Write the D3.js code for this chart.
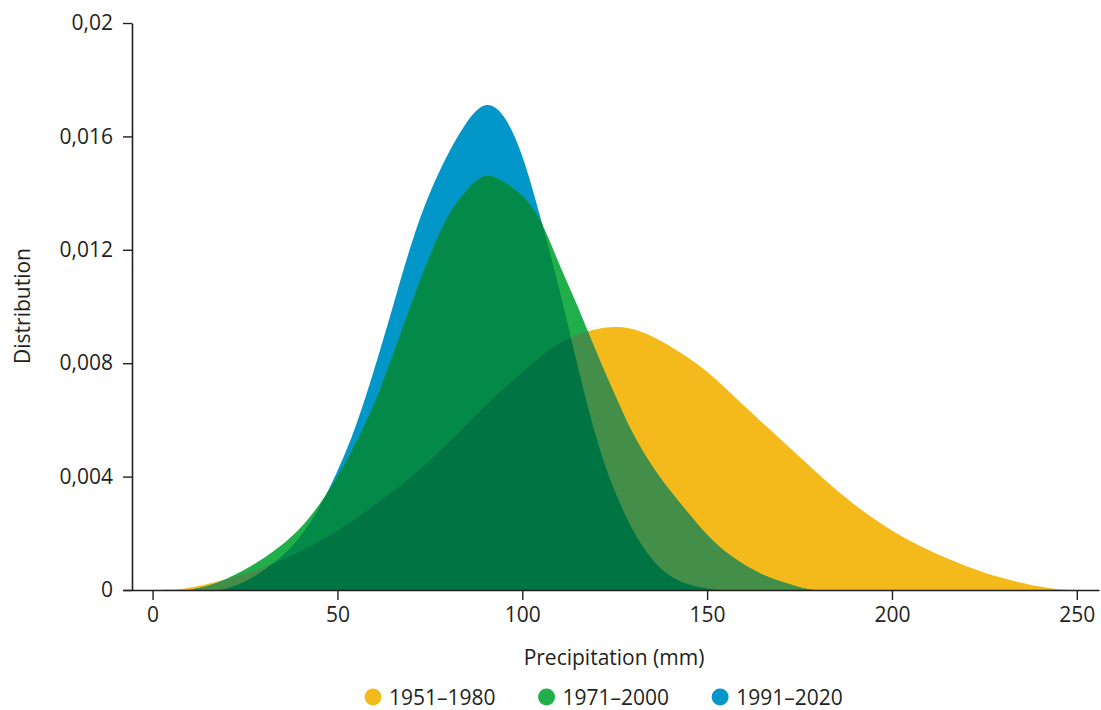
<!DOCTYPE html>
<html>
<head>
<meta charset="utf-8">
<script src="https://cdn.jsdelivr.net/npm/d3@7"></script>
<style>
  body { margin: 0; background: #fff; }
  text { font-family: "Open Sans", Lato, sans-serif; fill: #231f20; }
</style>
</head>
<body>
<div id="chart"></div>
<script>
// precipitation (mm) sample points and densities
var yellowX = [0, 5, 10, 20, 30, 40, 50, 60, 70, 80, 90, 100, 110, 120, 130, 140, 150, 160, 170, 180, 190, 200, 210, 220, 230, 240, 245, 250];
var yellowY = [0, 0.00002, 0.00008, 0.00038, 0.0008, 0.00138, 0.0021, 0.003, 0.004, 0.0052, 0.0065, 0.0077, 0.0087, 0.0092, 0.0092, 0.0086, 0.0077, 0.0065, 0.0053, 0.0041, 0.003, 0.0021, 0.0014, 0.00085, 0.00042, 0.00012, 0.00003, 0];

var greenX = [10, 15, 20, 25, 30, 35, 40, 45, 50, 55, 60, 65, 70, 75, 80, 85, 90, 95, 100, 105, 110, 115, 120, 125, 130, 135, 140, 145, 150, 155, 160, 165, 170, 175, 179];
var greenY = [0, 0.00015, 0.0004, 0.00072, 0.00112, 0.0016, 0.0022, 0.003, 0.004, 0.0052, 0.0066, 0.0083, 0.0101, 0.0118, 0.0132, 0.0141, 0.0146, 0.0144, 0.0139, 0.013, 0.0115, 0.01, 0.0084, 0.0069, 0.0055, 0.0044, 0.0035, 0.0027, 0.00195, 0.00135, 0.0009, 0.00055, 0.0003, 0.0001, 0];

var blueX = [18, 20, 25, 30, 35, 40, 45, 50, 55, 60, 65, 70, 75, 80, 85, 90, 95, 100, 105, 110, 115, 120, 125, 130, 135, 140, 145, 150, 153];
var blueY = [0, 0.00005, 0.0003, 0.0007, 0.0012, 0.0019, 0.0029, 0.0042, 0.0058, 0.0078, 0.01, 0.0122, 0.014, 0.0154, 0.0165, 0.0171, 0.0167, 0.0153, 0.0131, 0.0106, 0.0079, 0.0054, 0.0035, 0.0021, 0.0011, 0.0005, 0.0002, 0.00005, 0];

var series = ["1951–1980", "1971–2000", "1991–2020"];
var colors = ["#f4ba1c", "#20af4a", "#0396c8"];

var xTicks = [0, 50, 100, 150, 200, 250];
var yTicks = [0, 0.004, 0.008, 0.012, 0.016, 0.02];
var yTickLabels = ["0", "0,004", "0,008", "0,012", "0,016", "0,02"];

var W = 1101, H = 710;

var svg = d3.select("#chart")
  .append("svg")
    .attr("width", W)
    .attr("height", H);

var x = d3.scaleLinear().domain([-8, 256]).range([123, 1099]);
var y = d3.scaleLinear().domain([0, 0.02]).range([590, 23]);

function pts(xs, ys) { return xs.map((d, i) => [d, ys[i]]); }

var area = d3.area()
  .x(d => x(d[0]))
  .y0(y(0))
  .y1(d => y(d[1]))
  .curve(d3.curveNatural);

var yellow = pts(yellowX, yellowY),
    green = pts(greenX, greenY),
    blue = pts(blueX, blueY);

// keep any tiny spline dip under the baseline hidden
var defs = svg.append("defs");
defs.append("clipPath").attr("id", "clipPlot")
  .append("rect").attr("x", 123).attr("y", 0).attr("width", 980).attr("height", y(0));
defs.append("clipPath").attr("id", "clipYellow")
  .append("path").attr("d", area(yellow));
defs.append("clipPath").attr("id", "clipBlue")
  .append("path").attr("d", area(blue));

var plot = svg.append("g").attr("clip-path", "url(#clipPlot)");

// plain layers
plot.append("path").attr("d", area(yellow)).attr("fill", colors[0]);
plot.append("path").attr("d", area(blue)).attr("fill", colors[2]);
plot.append("path").attr("d", area(green)).attr("fill", colors[1]);

// overlaps get their own flat tones
plot.append("path").attr("d", area(green))
  .attr("clip-path", "url(#clipBlue)")
  .attr("fill", "#038a48");
plot.append("path").attr("d", area(green))
  .attr("clip-path", "url(#clipYellow)")
  .attr("fill", "#438f4a");
plot.append("g")
  .attr("clip-path", "url(#clipBlue)")
  .append("path").attr("d", area(green))
    .attr("clip-path", "url(#clipYellow)")
    .attr("fill", "#017444");

// axes
var xAxis = svg.append("g")
  .attr("transform", "translate(0," + y(0) + ")")
  .call(d3.axisBottom(x).tickValues(xTicks).tickSize(10).tickSizeOuter(0).tickPadding(7));

var yAxis = svg.append("g")
  .attr("transform", "translate(132,0)")
  .call(d3.axisLeft(y).tickValues(yTicks).tickFormat((d, i) => yTickLabels[i]).tickSize(9).tickSizeOuter(0).tickPadding(10));

[xAxis, yAxis].forEach(g => {
  g.select(".domain").attr("stroke", "#231f20").attr("stroke-width", 1.6);
  g.selectAll(".tick line").attr("stroke", "#231f20").attr("stroke-width", 1.4);
  g.selectAll(".tick text").style("font-size", "21px").attr("fill", "#231f20");
});

svg.append("text")
  .attr("x", 614)
  .attr("y", 665)
  .attr("text-anchor", "middle")
  .style("font-size", "21px")
  .text("Precipitation (mm)");

svg.append("text")
  .attr("transform", "translate(30,306) rotate(-90)")
  .attr("text-anchor", "middle")
  .style("font-size", "21px")
  .text("Distribution");

// legend
var legend = svg.append("g").attr("transform", "translate(0,697)");
var cx = 373;
series.forEach((s, i) => {
  legend.append("circle")
    .attr("cx", cx).attr("cy", 0).attr("r", 8.5)
    .attr("fill", colors[i]);
  var t = legend.append("text")
    .attr("x", cx + 16)
    .attr("y", 7.5)
    .style("font-size", "21px")
    .text(s);
  cx = cx + 16 + t.node().getComputedTextLength() + 51;
});
</script>
</body>
</html>
